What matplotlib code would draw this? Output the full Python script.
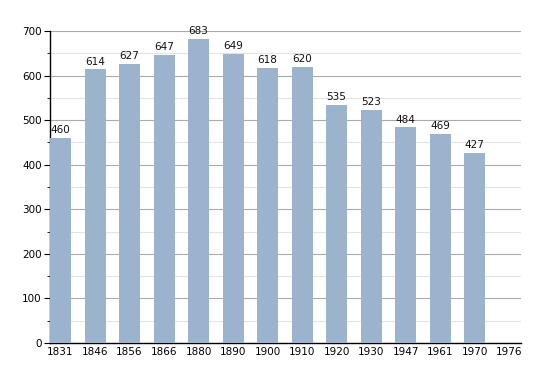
import numpy as np
import matplotlib.pyplot as plt
from matplotlib.ticker import MultipleLocator

# data
years = ["1831", "1846", "1856", "1866", "1880", "1890", "1900", "1910",
         "1920", "1930", "1947", "1961", "1970", "1976"]
population = [460, 614, 627, 647, 683, 649, 618, 620, 535, 523, 484, 469, 427, None]

bar_color = "#9bb3cc"
width = 0.61

fig = plt.figure(figsize=(5.5, 3.73), dpi=100)
ax = fig.add_axes([0.0909, 0.0804, 0.8564, 0.8365])

x = np.arange(len(years))
for i, v in enumerate(population):
    if v is None:
        continue
    ax.bar(x[i], v, width=width, align="edge", color=bar_color, zorder=3)
    ax.text(x[i] + width / 2, v + 6, str(v), ha="center", va="bottom",
            fontsize=7.5, color="#111111", zorder=4)

ax.set_xlim(0, 13.65)
ax.set_ylim(0, 700)
ax.set_xticks(x + width / 2)
ax.set_xticklabels(years)
ax.yaxis.set_major_locator(MultipleLocator(100))
ax.yaxis.set_minor_locator(MultipleLocator(50))

ax.grid(axis="y", which="major", color="#aaaaaa", linewidth=0.8, zorder=0)
ax.grid(axis="y", which="minor", color="#e3e3e3", linewidth=0.8, zorder=0)

for s in ["top", "right"]:
    ax.spines[s].set_visible(False)
ax.spines["left"].set_linewidth(1.0)
ax.spines["bottom"].set_linewidth(1.0)

ax.tick_params(axis="x", length=0, labelsize=7.5, pad=3)
ax.tick_params(axis="y", which="major", length=4, labelsize=7.5, pad=2)
ax.tick_params(axis="y", which="minor", length=2)

fig.savefig("out.png", dpi=100)
